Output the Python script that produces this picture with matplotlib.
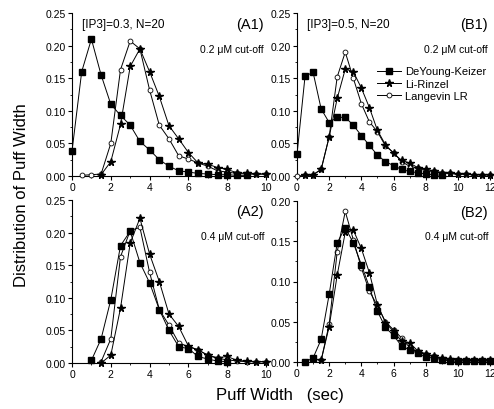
import numpy as np
import matplotlib.pyplot as plt
from matplotlib.ticker import MultipleLocator

plt.rcParams['font.family'] = ['Liberation Sans', 'DejaVu Sans']

# ---- data ----
# A1: [IP3]=0.3, 0.2 uM cut-off
a1_dk_x = [0, 0.5, 1, 1.5, 2, 2.5, 3, 3.5, 4, 4.5, 5, 5.5, 6, 6.5, 7, 7.5, 8, 8.5, 9]
a1_dk_y = [0.038, 0.160, 0.210, 0.155, 0.110, 0.093, 0.078, 0.053, 0.040, 0.025, 0.015,
           0.008, 0.006, 0.004, 0.003, 0.002, 0.002, 0.001, 0.001]
a1_lr_x = [1.5, 2, 2.5, 3, 3.5, 4, 4.5, 5, 5.5, 6, 6.5, 7, 7.5, 8, 8.5, 9, 9.5, 10]
a1_lr_y = [0.002, 0.022, 0.079, 0.168, 0.195, 0.160, 0.122, 0.077, 0.057, 0.036, 0.020,
           0.018, 0.013, 0.010, 0.005, 0.004, 0.003, 0.003]
a1_lv_x = [0.5, 1, 1.5, 2, 2.5, 3, 3.5, 4, 4.5, 5, 5.5, 6, 6.5, 7, 7.5, 8, 8.5, 9, 9.5, 10]
a1_lv_y = [0.001, 0.002, 0.003, 0.050, 0.163, 0.207, 0.195, 0.132, 0.078, 0.057, 0.031,
           0.026, 0.020, 0.015, 0.008, 0.006, 0.004, 0.003, 0.003, 0.003]

# B1: [IP3]=0.5, 0.2 uM cut-off
b1_dk_x = [0, 0.5, 1, 1.5, 2, 2.5, 3, 3.5, 4, 4.5, 5, 5.5, 6, 6.5, 7, 7.5, 8, 8.5, 9]
b1_dk_y = [0.033, 0.153, 0.159, 0.103, 0.082, 0.090, 0.090, 0.078, 0.062, 0.047, 0.032,
           0.022, 0.016, 0.010, 0.007, 0.005, 0.003, 0.002, 0.001]
b1_lr_x = [0.5, 1, 1.5, 2, 2.5, 3, 3.5, 4, 4.5, 5, 5.5, 6, 6.5, 7, 7.5, 8, 8.5, 9, 9.5,
           10, 10.5, 11, 11.5, 12]
b1_lr_y = [0.001, 0.002, 0.010, 0.060, 0.119, 0.164, 0.160, 0.135, 0.105, 0.070, 0.048,
           0.035, 0.024, 0.020, 0.013, 0.010, 0.008, 0.005, 0.004, 0.003, 0.003, 0.002,
           0.002, 0.002]
b1_lv_x = [0, 0.5, 1, 1.5, 2, 2.5, 3, 3.5, 4, 4.5, 5, 5.5, 6, 6.5, 7, 7.5, 8, 8.5, 9, 9.5,
           10, 10.5, 11, 11.5, 12]
b1_lv_y = [0.000, 0.001, 0.002, 0.010, 0.060, 0.152, 0.190, 0.150, 0.111, 0.083, 0.068,
           0.046, 0.036, 0.022, 0.015, 0.012, 0.008, 0.007, 0.005, 0.004, 0.003, 0.003,
           0.002, 0.002, 0.002]

# A2: [IP3]=0.3, 0.4 uM cut-off
a2_dk_x = [1, 1.5, 2, 2.5, 3, 3.5, 4, 4.5, 5, 5.5, 6, 6.5, 7, 7.5, 8]
a2_dk_y = [0.004, 0.037, 0.097, 0.180, 0.202, 0.154, 0.123, 0.082, 0.050, 0.025, 0.022,
           0.010, 0.006, 0.003, 0.002]
a2_lr_x = [1.5, 2, 2.5, 3, 3.5, 4, 4.5, 5, 5.5, 6, 6.5, 7, 7.5, 8, 8.5, 9, 9.5, 10]
a2_lr_y = [0.000, 0.012, 0.084, 0.184, 0.222, 0.167, 0.125, 0.075, 0.056, 0.026, 0.020,
           0.012, 0.008, 0.010, 0.004, 0.003, 0.002, 0.002]
a2_lv_x = [1.5, 2, 2.5, 3, 3.5, 4, 4.5, 5, 5.5, 6, 6.5, 7, 7.5, 8, 8.5, 9, 9.5, 10]
a2_lv_y = [0.002, 0.037, 0.163, 0.203, 0.208, 0.139, 0.082, 0.058, 0.031, 0.025, 0.020,
           0.012, 0.007, 0.005, 0.003, 0.002, 0.002, 0.002]

# B2: [IP3]=0.5, 0.4 uM cut-off
b2_dk_x = [0.5, 1, 1.5, 2, 2.5, 3, 3.5, 4, 4.5, 5, 5.5, 6, 6.5, 7, 7.5, 8, 8.5, 9, 9.5,
           10, 10.5, 11, 11.5, 12]
b2_dk_y = [0.000, 0.005, 0.028, 0.084, 0.148, 0.167, 0.148, 0.121, 0.093, 0.063, 0.043,
           0.033, 0.020, 0.015, 0.011, 0.006, 0.005, 0.003, 0.001, 0.001, 0.001, 0.001,
           0.001, 0.001]
b2_lr_x = [1.5, 2, 2.5, 3, 3.5, 4, 4.5, 5, 5.5, 6, 6.5, 7, 7.5, 8, 8.5, 9, 9.5, 10,
           10.5, 11, 11.5, 12]
b2_lr_y = [0.002, 0.044, 0.108, 0.161, 0.164, 0.141, 0.111, 0.071, 0.049, 0.038, 0.026,
           0.024, 0.014, 0.010, 0.007, 0.005, 0.004, 0.003, 0.002, 0.002, 0.002, 0.002]
b2_lv_x = [1.5, 2, 2.5, 3, 3.5, 4, 4.5, 5, 5.5, 6, 6.5, 7, 7.5, 8, 8.5, 9, 9.5, 10,
           10.5, 11, 11.5, 12]
b2_lv_y = [0.002, 0.047, 0.137, 0.187, 0.152, 0.117, 0.088, 0.070, 0.050, 0.040, 0.030,
           0.018, 0.013, 0.010, 0.007, 0.004, 0.003, 0.003, 0.002, 0.002, 0.002, 0.002]

W, H = 494, 410
fig = plt.figure(figsize=(W / 100, H / 100), dpi=100)


def add_ax(left, right, top, bottom):
    return fig.add_axes([left / W, (H - bottom) / H, (right - left) / W, (bottom - top) / H])


def style(ax, xmax, ymax):
    ax.set_xlim(0, xmax)
    ax.set_ylim(0, ymax)
    for s in ['top', 'right']:
        ax.spines[s].set_visible(False)
    for s in ['left', 'bottom']:
        ax.spines[s].set_linewidth(0.8)
    ax.xaxis.set_major_locator(MultipleLocator(2))
    ax.xaxis.set_minor_locator(MultipleLocator(1))
    ax.yaxis.set_major_locator(MultipleLocator(0.05))
    ax.yaxis.set_minor_locator(MultipleLocator(0.025))
    ax.tick_params(which='major', direction='out', length=3, width=0.8, labelsize=7.5, pad=1.5)
    ax.tick_params(which='minor', direction='out', length=1.5, width=0.6)
    ax.yaxis.set_major_formatter(plt.FormatStrFormatter('%.2f'))


def draw(ax, dk, lr, lv):
    kw = dict(color='black', lw=0.7)
    ax.plot(*lv, marker='o', ms=3.5, mfc='white', mec='black', mew=0.6,
            label='Langevin LR', clip_on=False, zorder=3, **kw)
    ax.plot(*lr, marker='*', ms=5.5, mfc='black', mec='black',
            label='Li-Rinzel', clip_on=False, zorder=4, **kw)
    ax.plot(*dk, marker='s', ms=4, mfc='black', mec='black',
            label='DeYoung-Keizer', clip_on=False, zorder=5, **kw)


axA1 = add_ax(72, 266, 14, 177)
axB1 = add_ax(297, 490, 14, 177)
axA2 = add_ax(72, 266, 201, 364)
axB2 = add_ax(297, 490, 202, 363)

draw(axA1, (a1_dk_x, a1_dk_y), (a1_lr_x, a1_lr_y), (a1_lv_x, a1_lv_y))
draw(axB1, (b1_dk_x, b1_dk_y), (b1_lr_x, b1_lr_y), (b1_lv_x, b1_lv_y))
draw(axA2, (a2_dk_x, a2_dk_y), (a2_lr_x, a2_lr_y), (a2_lv_x, a2_lv_y))
draw(axB2, (b2_dk_x, b2_dk_y), (b2_lr_x, b2_lr_y), (b2_lv_x, b2_lv_y))

style(axA1, 10, 0.25)
style(axB1, 12, 0.25)
style(axA2, 10, 0.25)
style(axB2, 12, 0.20)

# annotations
axA1.text(0.05, 0.93, '[IP3]=0.3, N=20', transform=axA1.transAxes, fontsize=8.5, va='center')
axB1.text(0.05, 0.93, '[IP3]=0.5, N=20', transform=axB1.transAxes, fontsize=8.5, va='center')
for ax, lab in [(axA1, '(A1)'), (axB1, '(B1)'), (axA2, '(A2)'), (axB2, '(B2)')]:
    ax.text(0.99, 0.93, lab, transform=ax.transAxes, fontsize=10.5, ha='right', va='center')
for ax, cut in [(axA1, '0.2'), (axB1, '0.2'), (axA2, '0.4'), (axB2, '0.4')]:
    ax.text(0.99, 0.78, cut + ' \u03bcM cut-off', transform=ax.transAxes, fontsize=7.5,
            ha='right', va='center')

# legend in B1, ordered as in the reference
h, l = axB1.get_legend_handles_labels()
order = [2, 1, 0]
axB1.legend([h[i] for i in order], [l[i] for i in order], loc='upper right',
            bbox_to_anchor=(1.02, 0.72), frameon=False, fontsize=8,
            handlelength=2.2, handletextpad=0.3, labelspacing=0.2, borderpad=0.2)

fig.text(22 / W, 1 - 195 / H, 'Distribution of Puff Width', rotation=90, fontsize=12,
         ha='center', va='center')
fig.text(280 / W, 1 - 396 / H, 'Puff Width   (sec)', fontsize=12, ha='center', va='center')

fig.savefig('out.png', dpi=100)
